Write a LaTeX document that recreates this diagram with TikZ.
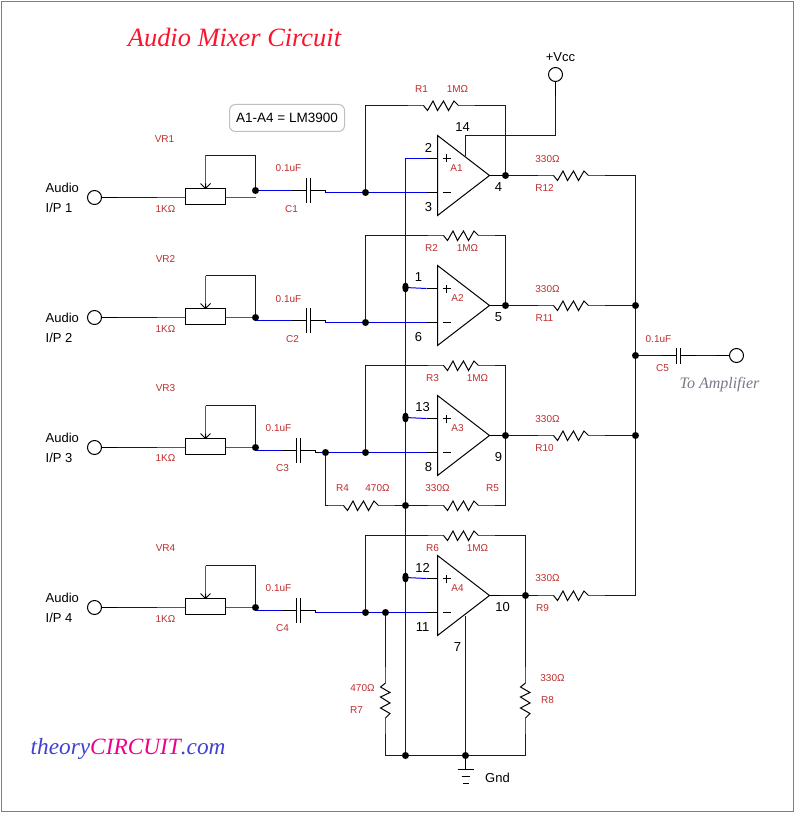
\documentclass[tikz,border=0pt]{standalone}
\usepackage{fontspec}
\setmainfont{Liberation Sans}
\newfontfamily\serfont{Liberation Serif}
\usetikzlibrary{shapes.geometric}
\definecolor{wblue}{RGB}{0,0,235}
\definecolor{wred}{RGB}{190,45,45}
\definecolor{framecol}{RGB}{60,168,80}
\definecolor{logoblue}{RGB}{64,64,210}
\definecolor{ampcol}{RGB}{120,120,135}
\definecolor{titlered}{RGB}{250,20,45}
\tikzset{
  x=1pt,y=-1pt,
  bk/.style={draw,color=black,line width=1pt},
  bl/.style={draw,color=wblue,line width=1pt},
  rd/.style={draw,color=wred,line width=1pt},
  dot/.style={circle,fill=black,inner sep=0pt,minimum size=7pt},
  vdot/.style={ellipse,fill=black,inner sep=0pt,minimum width=6.5pt,minimum height=10pt},
  term/.style={circle,draw=black,fill=white,line width=1pt,inner sep=0pt,minimum size=14pt},
  redlab/.style={text=wred,inner sep=0pt,font=\fontsize{10}{11}\selectfont},
  blklab/.style={text=black,inner sep=0pt,font=\fontsize{13}{15}\selectfont},
  pics/hres/.style={code={
    \coordinate (-a) at (-33.5,0);
    \coordinate (-b) at (33.5,0);
    \path[rd] (-33.5,0) -- (-17.5,0) (17.5,0) -- (33.5,0);
    \path[bk,line join=miter] (-17.5,0) -- (-13.5,5) -- (-8,-4.5) -- (-3.5,5) -- (2.5,-4.5) -- (7.5,5) -- (13,-4.5) -- (17.5,0);
  }},
  pics/pot/.style={code={
    \coordinate (-l) at (-49,0);
    \coordinate (-r) at (50,0);
    \coordinate (-t) at (0,-42);
    \path[rd] (-49,0) -- (-20,0) (20,0) -- (50,0) (0,-42) -- (0,-11);
    \path[bk] (-20,-9) rectangle (20,7);
    \path[bk] (-5,-14) -- (0,-9) -- (5,-14) (0,-14) -- (0,-9);
  }},
  pics/capv/.style={code={
    \coordinate (-l) at (-17,0);
    \coordinate (-r) at (17,0);
    \path[bk] (-17,0) -- (-2,0) (-2,-#1) -- (-2,#1) (2,-#1) -- (2,#1) (2,0) -- (17,0);
  }},
  pics/opamp/.style={code={
    \coordinate (-ip) at (-11,-17);
    \coordinate (-im) at (-11,17);
    \coordinate (-tip) at (52,0);
    \path[bk,line join=miter] (0,-40) -- (0,40) -- (52,0) -- cycle;
    \path[bk] (-11,-17) -- (0,-17) (-11,17) -- (0,17);
    \path[bk] (5,-17) -- (13,-17) (9,-21) -- (9,-13) (5,17) -- (13,17);
  }},
}
\newcommand{\rl}[4]{\node[redlab] (#1) at (#2,#3) {#4};}
\newcommand{\kl}[4]{\node[blklab] (#1) at (#2,#3) {#4};}
\begin{document}
\begin{tikzpicture}
\useasboundingbox (0,0) rectangle (795,813);
\begin{scope}[shift={(0.5,0.5)}]
\draw[draw=framecol,line width=1pt] (1,1) rectangle (793,811);

% title, logo, note
\node[inner sep=0pt,text=titlered,font=\serfont\itshape\fontsize{26.4}{30}\selectfont] (title) at (234,37) {Audio Mixer Circuit};
\node[inner sep=0pt,anchor=west,font=\serfont\itshape\fontsize{23.3}{28}\selectfont] (logo) at (30,748) {\textcolor{logoblue}{theory}\textcolor{magenta}{CIRCUIT}\textcolor{logoblue}{.com}};
\node[draw=black!25,rounded corners=6pt,line width=1pt,minimum width=115pt,minimum height=27pt,inner sep=0pt,font=\fontsize{13.5}{15}\selectfont] (note) at (286.5,117.5) {A1-A4 = LM3900};

% terminals
\foreach \n/\y in {1/197,2/317,3/447,4/607}{
  \node[term] (in\n) at (94,\y) {};
  \pic (vr\n) at (205,\y) {pot};
  \path[bk] (in\n.east) -- ++(15,0) coordinate (in\n b);
  \path[bl] (in\n b) -- (vr\n-l);
}
\node[term] (vcc) at (555,74) {};
\node[term] (amp) at (736,355) {};

% op-amps
\pic (a1) at (437,175) {opamp};
\pic (a2) at (437,305) {opamp};
\pic (a3) at (437,435) {opamp};
\pic (a4) at (437,595) {opamp};

% capacitors
\pic (c1) at (308,190) {capv=12.5};
\pic (c2) at (308,320) {capv=12.5};
\pic (c3) at (298,450) {capv=12.5};
\pic (c4) at (298,610) {capv=12.5};
\pic (c5) at (678,355) {capv=8};

% resistors
\pic (r1) at (440.5,105) {hres};
\pic (r2) at (460.5,235) {hres};
\pic (r3) at (460.5,365) {hres};
\pic (r4) at (360.5,505) {hres};
\pic (r5) at (460.5,505) {hres};
\pic (r6) at (460.5,535) {hres};
\pic (r7) [rotate=-90] at (385,700) {hres};
\pic (r8) [rotate=-90] at (525,700) {hres};
\pic (r9) at (570.5,595) {hres};
\pic (r10) at (570.5,435) {hres};
\pic (r11) at (570.5,305) {hres};
\pic (r12) at (570.5,175) {hres};

% junction points
\coordinate (p1) at (255,190);
\coordinate (p2) at (255,317);
\coordinate (p3) at (255,447);
\coordinate (p4) at (255,607);
\coordinate (m1) at (365,192);
\coordinate (m2) at (365,322);
\coordinate (m3) at (365,452);
\coordinate (m4) at (365,612);
\coordinate (m3b) at (325,452);
\coordinate (m4b) at (385,612);
\coordinate (o1) at (505,175);
\coordinate (o2) at (505,305);
\coordinate (o3) at (505,435);
\coordinate (o4) at (525,595);
\coordinate (b2) at (405,287);
\coordinate (b3) at (405,417);
\coordinate (b4) at (405,577);
\coordinate (b5) at (405,505);
\coordinate (b6) at (405,755);
\coordinate (g1) at (465,755);
\coordinate (s1) at (635,305);
\coordinate (s2) at (635,355);
\coordinate (s3) at (635,435);

% pot to junction, wiper loop
\foreach \n in {1,2,3,4}{
  \path[bl] (vr\n-t) -| (p\n);
}
\path[bl] (p1) -- (c1-l);
\path[bl] (p2) |- (c2-l);
\path[bl] (p3) |- (c3-l);
\path[bl] (p4) |- (c4-l);
% cap to inverting input
\path[bk] (c1-r) -- ++(0,2);
\path[bl] (c1-r) ++(0,2) -- (a1-im);
\path[bk] (c2-r) -- ++(0,2);
\path[bl] (c2-r) ++(0,2) -- (a2-im);
\path[bk] (c3-r) -- ++(0,2) coordinate (c3x) -- ++(3,0) coordinate (c3y);
\path[bl] (c3y) -- (a3-im);
\path[bk] (c4-r) -- ++(0,2) coordinate (c4x);
\path[bl] (c4x) -- (a4-im);
% feedback
\path[bl] (m1) |- (r1-a);
\path[bl] (r1-b) -| (o1);
\path[bl] (m2) |- (r2-a);
\path[bl] (r2-b) -| (o2);
\path[bl] (m3) |- (r3-a);
\path[bl] (r3-b) -| (o3);
\path[bl] (m4) |- (r6-a);
\path[bl] (r6-b) -| (o4);
% op-amp outputs
\path[bk] (a1-tip) -- (o1);
\path[bk] (a2-tip) -- (o2);
\path[bk] (a3-tip) -- (o3);
\path[bk] (a4-tip) -- ++(10,0) coordinate (a4x);
\path[bl] (a4x) -- (o4);
\path[bl] (o1) -- (r12-a);
\path[bl] (o2) -- (r11-a);
\path[bl] (o3) -- (r10-a);
\path[bl] (o4) -- (r9-a);
% summing rail
\path[bl] (r12-b) -| (s1);
\path[bl] (r11-b) -- (s1);
\path[bl] (r10-b) -- (s3);
\path[bl] (r9-b) -| (s3);
\path[bl] (s1) -- (s2) -- (s3);
\path[bl] (s2) -- (c5-l);
\path[bl] (c5-r) -- (amp.west);
\path[bk] (amp.west) -- ++(-13,0);
% non-inverting rail
\path[bl] (a1-ip) -- ++(-21,0) coordinate (rail) -- (b2) -- (b3) -- (b5) -- (b4) -- (b6);
\path[bl] (b2) -- (a2-ip);
\path[bl] (b3) -- (a3-ip);
\path[bl] (b4) -- (a4-ip);
% A3 lower network
\path[bl] (m3b) |- (r4-a);
\path[bl] (r4-b) -- (b5) -- (r5-a);
\path[bl] (r5-b) -| (o3);
% A4 lower network
\path[bl] (m4b) -- (r7-a);
\path[bl] (o4) -- (r8-a);
\path[bl] (r7-b) |- (b6) -- (g1);
\path[bl] (r8-b) |- (g1);
\coordinate (a4v) at (465,615);
\path[bl] (a4v) -- (g1);
% supply
\path[bk] (vcc.south) -- ++(0,14) coordinate (vccb);
\coordinate (a1v) at (465,156);
\coordinate (a1w) at (465,135);
\path[bl] (vccb) |- (a1w) -- (a1v);
% ground
\path[bk] (g1) -- ++(0,14) coordinate (gnd);
\path[bk] (gnd) ++(-8,0) -- ++(16,0);
\path[bk] (gnd) ++(-4,7) -- ++(8,0);
\path[bk] (gnd) ++(-3,14) -- ++(6,0);

% junction dots
\foreach \j in {p1,p2,p3,p4,m1,m2,m3,m4,m3b,m4b,o1,o2,o3,o4,b5,b6,g1,s1,s2,s3}{
  \node[dot] (dot\j) at (\j) {};
}
\foreach \j in {b2,b3,b4}{
  \node[vdot] (dot\j) at (\j) {};
}

% black labels
\foreach \n/\y in {1/187,2/317,3/437,4/597}{
  \node[blklab,anchor=west] (au\n) at (45,\y) {Audio};
}
\node[blklab,anchor=west] (ip1) at (45,207) {I/P 1};
\node[blklab,anchor=west] (ip2) at (45,337) {I/P 2};
\node[blklab,anchor=west] (ip3) at (45,457) {I/P 3};
\node[blklab,anchor=west] (ip4) at (45,617) {I/P 4};
\kl{vcct}{560}{57}{+Vcc}
\kl{gndt}{497}{777}{Gnd}
\kl{n2}{428}{147}{2}
\kl{n3}{428}{207}{3}
\kl{n14}{462}{127}{14}
\kl{n4}{498}{187}{4}
\kl{n1}{418}{277}{1}
\kl{n6}{418}{337}{6}
\kl{n5}{498}{317}{5}
\kl{n13}{422}{407}{13}
\kl{n8}{428}{467}{8}
\kl{n9}{498}{457}{9}
\kl{n12}{422}{567}{12}
\kl{n11}{422}{627}{11}
\kl{n10}{502}{607}{10}
\kl{n7}{457}{647}{7}

% red labels
\rl{a1t}{456}{168}{A1}
\rl{a2t}{457}{298}{A2}
\rl{a3t}{457}{428}{A3}
\rl{a4t}{457}{588}{A4}
\rl{v1}{164}{139}{VR1}
\rl{v2}{165}{259}{VR2}
\rl{v3}{165}{388}{VR3}
\rl{v4}{165}{548}{VR4}
\rl{k1}{165}{209}{1KΩ}
\rl{k2}{165}{329}{1KΩ}
\rl{k3}{165}{458}{1KΩ}
\rl{k4}{165}{619}{1KΩ}
\rl{u1}{288}{168}{0.1uF}
\rl{u2}{288}{299}{0.1uF}
\rl{u3}{278}{428}{0.1uF}
\rl{u4}{278}{588}{0.1uF}
\rl{u5}{658}{339}{0.1uF}
\rl{c1t}{291}{209}{C1}
\rl{c2t}{292}{339}{C2}
\rl{c3t}{282}{468}{C3}
\rl{c4t}{282}{628}{C4}
\rl{c5t}{662}{368}{C5}
\rl{r1t}{421}{89}{R1}
\rl{r1v}{457}{89}{1MΩ}
\rl{r2t}{431}{248}{R2}
\rl{r2v}{467}{248}{1MΩ}
\rl{r3t}{432}{378}{R3}
\rl{r3v}{477}{378}{1MΩ}
\rl{r6t}{432}{548}{R6}
\rl{r6v}{477}{548}{1MΩ}
\rl{r12v}{547}{159}{330Ω}
\rl{r12t}{544}{188}{R12}
\rl{r11v}{547}{289}{330Ω}
\rl{r11t}{544}{318}{R11}
\rl{r10v}{547}{419}{330Ω}
\rl{r10t}{544}{448}{R10}
\rl{r9v}{547}{578}{330Ω}
\rl{r9t}{542}{608}{R9}
\rl{r4t}{342}{488}{R4}
\rl{r4v}{377}{488}{470Ω}
\rl{r5v}{437}{488}{330Ω}
\rl{r5t}{492}{488}{R5}
\rl{r7v}{362}{688}{470Ω}
\rl{r7t}{356}{710}{R7}
\rl{r8v}{552}{678}{330Ω}
\rl{r8t}{547}{700}{R8}
\node[inner sep=0pt,text=ampcol,font=\serfont\itshape\fontsize{16}{18}\selectfont] (ampt) at (719,384) {To Amplifier};
\end{scope}
\end{tikzpicture}
\end{document}
